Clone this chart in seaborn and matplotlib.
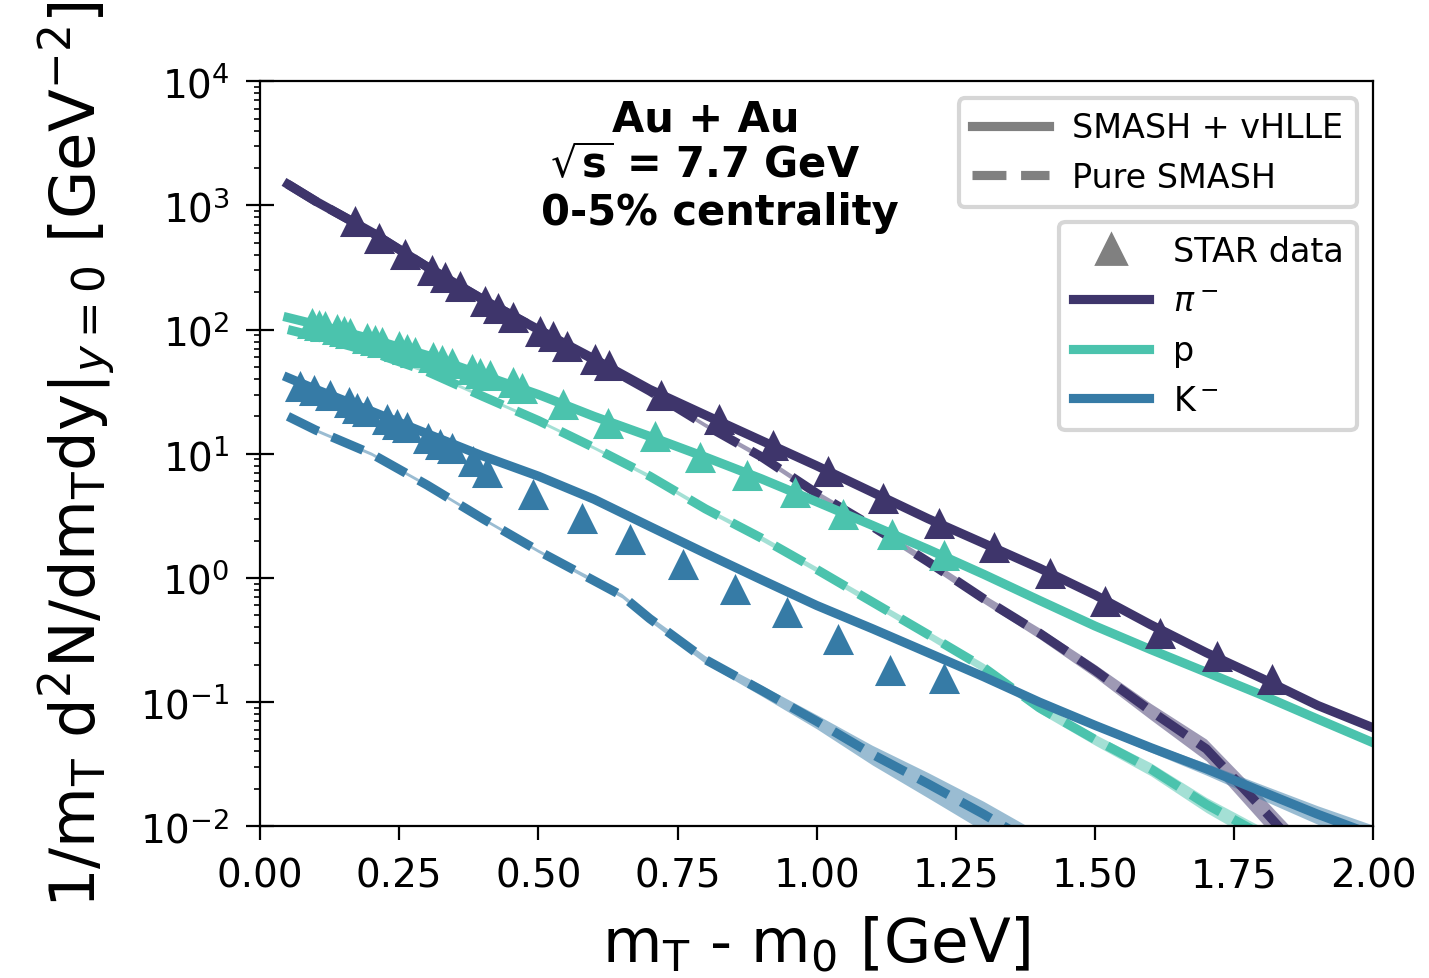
import numpy as np
import matplotlib
matplotlib.use("Agg")
import matplotlib.pyplot as plt
from matplotlib.lines import Line2D
import seaborn as sns

# model grid (GeV)
x_model = [0.05, 0.1, 0.2, 0.3, 0.4, 0.5, 0.6, 0.7, 0.8, 0.9, 1.0,
           1.1, 1.2, 1.3, 1.4, 1.5, 1.6, 1.7, 1.8, 1.9, 2.0]

# SMASH + vHLLE (solid)
pi_hybrid = [1480, 1080, 610, 320, 175, 100, 58, 33, 20.5, 12.8, 8.0,
             4.9, 3.0, 1.9, 1.2, 0.73, 0.42, 0.25, 0.155, 0.094, 0.062]
p_hybrid = [125, 110, 84, 62, 43, 30, 20, 13.8, 9.4, 6.3, 4.1,
            2.65, 1.7, 1.07, 0.66, 0.41, 0.265, 0.174, 0.114, 0.073, 0.047]
k_hybrid = [41, 33, 22, 14.5, 9.6, 6.6, 4.3, 2.6, 1.58, 0.97, 0.6,
            0.39, 0.25, 0.16, 0.1, 0.065, 0.043, 0.029, 0.019, 0.0125, 0.0085]
pi_hybrid_err = [0.01, 0.01, 0.01, 0.01, 0.01, 0.01, 0.01, 0.01, 0.01, 0.01, 0.01,
                 0.01, 0.02, 0.02, 0.02, 0.03, 0.03, 0.04, 0.04, 0.05, 0.05]
p_hybrid_err = [0.01, 0.01, 0.01, 0.01, 0.01, 0.01, 0.01, 0.01, 0.01, 0.01, 0.02,
                0.02, 0.02, 0.02, 0.03, 0.03, 0.03, 0.04, 0.04, 0.05, 0.05]
k_hybrid_err = [0.02, 0.02, 0.02, 0.02, 0.02, 0.02, 0.02, 0.02, 0.02, 0.02, 0.03,
                0.03, 0.03, 0.04, 0.05, 0.06, 0.08, 0.11, 0.14, 0.17, 0.2]

# Pure SMASH (dashed)
pi_smash = [1480, 1080, 610, 320, 175, 100, 57, 32, 17, 9.5, 4.8,
            2.6, 1.35, 0.68, 0.36, 0.18, 0.085, 0.042, 0.014, 0.0045, 0.0015]
p_smash = [100, 88, 66, 46, 29, 18.5, 11.2, 6.6, 3.6, 2.1, 1.17,
           0.64, 0.35, 0.19, 0.09, 0.05, 0.029, 0.015, 0.0085, 0.0048, 0.0027]
pi_smash_err = [0.03, 0.03, 0.03, 0.03, 0.03, 0.03, 0.03, 0.04, 0.04, 0.05, 0.05,
                0.06, 0.07, 0.08, 0.1, 0.12, 0.15, 0.2, 0.24, 0.28, 0.3]
p_smash_err = [0.03, 0.03, 0.03, 0.03, 0.03, 0.03, 0.03, 0.04, 0.04, 0.05, 0.05,
               0.06, 0.07, 0.08, 0.09, 0.1, 0.12, 0.14, 0.16, 0.18, 0.2]
x_k_smash = [0.05, 0.1, 0.2, 0.3, 0.4, 0.5, 0.6, 0.65, 0.7, 0.8, 0.9,
             1.0, 1.1, 1.2, 1.3, 1.4]
k_smash = [20, 15.5, 10, 5.6, 3.0, 1.65, 0.95, 0.72, 0.47, 0.22, 0.125,
           0.07, 0.038, 0.022, 0.0125, 0.0068]
k_smash_err = [0.03, 0.03, 0.03, 0.03, 0.03, 0.03, 0.04, 0.04, 0.05, 0.07, 0.1,
               0.13, 0.18, 0.23, 0.27, 0.3]

# STAR data
pi_star_x = [0.171, 0.213, 0.260, 0.309, 0.332, 0.359, 0.404, 0.428, 0.455, 0.503,
             0.527, 0.551, 0.602, 0.626, 0.72, 0.824, 0.922, 1.021, 1.12, 1.219,
             1.318, 1.419, 1.518, 1.617, 1.719, 1.818]
pi_star_y = [750, 551, 405, 302, 263, 224, 170, 150, 127, 97.6,
             88, 74, 57.7, 51.6, 30, 19, 11.7, 7.3, 4.4, 2.78,
             1.76, 1.10, 0.65, 0.36, 0.235, 0.153]
p_star_x = [0.093, 0.105, 0.117, 0.138, 0.150, 0.162, 0.192, 0.207, 0.219, 0.249,
            0.264, 0.279, 0.311, 0.326, 0.344, 0.380, 0.395, 0.413, 0.455, 0.470,
            0.545, 0.625, 0.71, 0.79, 0.875, 0.961, 1.048, 1.135, 1.228]
p_star_y = [114, 108, 106, 101, 97, 93, 86, 83, 79, 74,
            70, 66, 60, 57, 54, 48, 45, 43, 37.5, 34,
            25, 17.6, 13.8, 9.5, 6.8, 4.9, 3.26, 2.25, 1.54]
k_star_x = [0.072, 0.096, 0.126, 0.159, 0.174, 0.192, 0.228, 0.246, 0.264, 0.302,
            0.323, 0.344, 0.383, 0.407, 0.491, 0.578, 0.665, 0.76, 0.853, 0.947,
            1.039, 1.132, 1.228]
k_star_y = [35, 32.6, 30, 26, 23.5, 22, 19.2, 17.3, 16.3, 13.5,
            11.9, 11.2, 8.7, 7.1, 4.72, 3.06, 2.05, 1.29, 0.81, 0.53,
            0.32, 0.18, 0.155]

c_pi = "#3e356b"
c_p = "#4bc3ad"
c_k = "#367ba6"
LW = 3.3


def draw_band(ax, x, y, err, color):
    y = np.array(y)
    e = np.array(err)
    ax.fill_between(x, y * (1 - e), y * (1 + e), color=color, alpha=0.5, lw=0)


fig, ax = plt.subplots(figsize=(7.145, 4.895), dpi=200)
fig.subplots_adjust(left=0.182, right=0.961, bottom=0.155, top=0.916)

species = [
    (x_model, pi_hybrid, pi_hybrid_err, x_model, pi_smash, pi_smash_err, pi_star_x, pi_star_y, c_pi),
    (x_model, p_hybrid, p_hybrid_err, x_model, p_smash, p_smash_err, p_star_x, p_star_y, c_p),
    (x_model, k_hybrid, k_hybrid_err, x_k_smash, k_smash, k_smash_err, k_star_x, k_star_y, c_k),
]

for xh, yh, eh, xs, ys, es, xd, yd, col in species:
    draw_band(ax, xs, ys, es, col)
    sns.lineplot(x=xs, y=ys, color=col, lw=LW, linestyle="--", sort=False, ax=ax)
for xh, yh, eh, xs, ys, es, xd, yd, col in species:
    draw_band(ax, xh, yh, eh, col)
    sns.lineplot(x=xh, y=yh, color=col, lw=LW, sort=False, ax=ax)
for xh, yh, eh, xs, ys, es, xd, yd, col in species:
    sns.scatterplot(x=xd, y=yd, color=col, marker="^", s=125, linewidth=0, ax=ax, zorder=5)

ax.set_yscale("log")
ax.set_xlim(0, 2)
ax.set_ylim(1e-2, 1e4)
ax.tick_params(axis="both", which="major", labelsize=14)
ax.tick_params(axis="y", which="major", direction="inout", length=10, pad=6)
ax.tick_params(axis="x", which="major", length=5, pad=6)

ax.set_xlabel(r"m$_\mathrm{T}$ - m$_0$ [GeV]", fontsize=22, labelpad=7)
ax.set_ylabel(r"1/m$_\mathrm{T}$ d$^2$N/dm$_\mathrm{T}$dy$|_{y=0}$ [GeV$^{-2}$]",
              fontsize=22.5, labelpad=8)

ax.text(0.400, 0.887, "Au + Au\n" + r"$\sqrt{\mathbf{s}}$ = 7.7 GeV" + "\n  0-5% centrality",
        transform=ax.transAxes, ha="center", va="center", fontsize=15,
        fontweight="bold", linespacing=1.15)

h1 = [Line2D([], [], color="gray", lw=LW), Line2D([], [], color="gray", lw=LW, ls="--")]
leg1 = ax.legend(h1, ["SMASH + vHLLE", "Pure SMASH"], loc="upper right",
                 fontsize=12, handlelength=2.3, handletextpad=0.7)
leg1.get_frame().set_linewidth(1.5)
ax.add_artist(leg1)
h2 = [Line2D([], [], color="gray", marker="^", ls="none", markersize=11),
      Line2D([], [], color=c_pi, lw=LW),
      Line2D([], [], color=c_p, lw=LW),
      Line2D([], [], color=c_k, lw=LW)]
leg2 = ax.legend(h2, ["STAR data", r"$\pi^-$", "p", "K$^-$"], loc="upper right",
                 bbox_to_anchor=(1.0, 0.834), fontsize=12, handlelength=2.3,
                 handletextpad=0.7)
leg2.get_frame().set_linewidth(1.5)

fig.savefig("out.png", dpi=200)
